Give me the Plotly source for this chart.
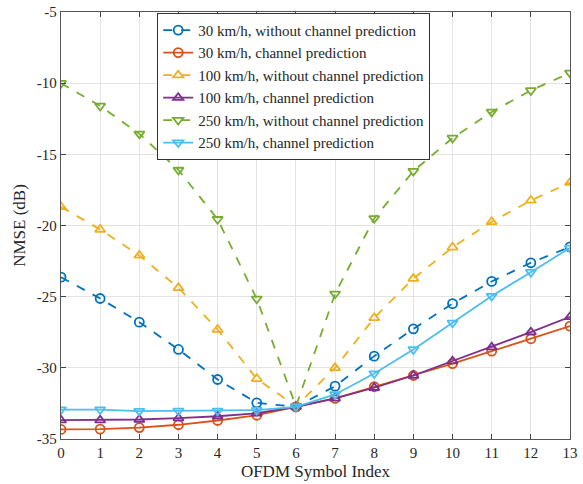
import plotly.graph_objects as go

symbol_index = list(range(14))

nmse_30_without = [-23.63, -25.13, -26.79, -28.71, -30.82, -32.46, -32.74,
                   -31.29, -29.18, -27.26, -25.49, -23.93, -22.62, -21.5]
nmse_30_pred = [-34.33, -34.31, -34.2, -34.0, -33.7, -33.33, -32.74,
                -32.15, -31.33, -30.54, -29.7, -28.83, -27.96, -27.07]
nmse_100_without = [-18.69, -20.28, -22.1, -24.38, -27.31, -30.77, -32.7,
                    -30.0, -26.49, -23.73, -21.53, -19.74, -18.24, -16.99]
nmse_100_pred = [-33.68, -33.68, -33.63, -33.54, -33.4, -33.19, -32.74,
                 -32.15, -31.4, -30.54, -29.53, -28.55, -27.49, -26.42]
nmse_250_without = [-10.0, -11.6, -13.56, -16.1, -19.56, -25.15, -32.7,
                    -24.8, -19.5, -16.18, -13.85, -12.02, -10.51, -9.28]
nmse_250_pred = [-32.93, -32.93, -33.04, -33.02, -33.02, -32.97, -32.74,
                 -31.87, -30.4, -28.71, -26.84, -24.96, -23.28, -21.57]

series_names = [
    "30 km/h, without channel prediction",
    "30 km/h, channel prediction",
    "100 km/h, without channel prediction",
    "100 km/h, channel prediction",
    "250 km/h, without channel prediction",
    "250 km/h, channel prediction",
]

y_tick_values = [-35, -30, -25, -20, -15, -10, -5]
y_tick_labels = ["-35", "-30", "-25", "-20", "-15", "-10", "-5"]
x_tick_labels = [str(i) for i in symbol_index]

series_values = [nmse_30_without, nmse_30_pred, nmse_100_without,
                 nmse_100_pred, nmse_250_without, nmse_250_pred]
colors = ["#0072BD", "#D95319", "#EDB120", "#7E2F8E", "#77AC30", "#4DBEEE"]
dashes = ["dash", "solid", "dash", "solid", "dash", "solid"]
symbols = ["circle-open", "circle-open", "triangle-up-open", "triangle-up-open",
           "triangle-down-open", "triangle-down-open"]

fig = go.Figure()
for name, vals, c, d, s in zip(series_names, series_values, colors, dashes, symbols):
    fig.add_trace(go.Scatter(
        x=symbol_index, y=vals, name=name, mode="lines+markers",
        line=dict(color=c, width=1.8, dash=d),
        marker=dict(symbol=s, size=9, color=c, line=dict(width=1.8, color=c)),
    ))

font_family = "Liberation Serif"
axis_common = dict(
    showgrid=True, gridcolor="#e3e3e3", gridwidth=1,
    showline=True, linecolor="#555555", linewidth=1.3, mirror="ticks",
    ticks="inside", ticklen=5, tickcolor="#444444", tickwidth=1,
    zeroline=False, automargin=False,
    tickfont=dict(family=font_family, size=15, color="#262626"),
)

fig.update_layout(
    width=583, height=484,
    margin=dict(l=61, r=13, t=12, b=45),
    paper_bgcolor="white", plot_bgcolor="white",
    font=dict(family=font_family, color="#262626"),
    showlegend=True,
    legend=dict(
        x=0.189, y=0.998, xanchor="left", yanchor="top",
        bgcolor="white", bordercolor="#333333", borderwidth=1,
        font=dict(family=font_family, size=15, color="#262626"),
        itemwidth=30, tracegroupgap=0,
    ),
    xaxis=dict(
        range=[0, 13], tickvals=symbol_index, ticktext=x_tick_labels,
        title=dict(text="OFDM Symbol Index", standoff=4,
                   font=dict(family=font_family, size=17, color="#262626")),
        **axis_common,
    ),
    yaxis=dict(
        range=[-35, -5], tickvals=y_tick_values, ticktext=y_tick_labels,
        title=dict(text="NMSE (dB)", standoff=6,
                   font=dict(family=font_family, size=17, color="#262626")),
        **axis_common,
    ),
)

fig.write_html("out.html", config={"displayModeBar": False},
               post_script="document.body.style.margin='0';")
